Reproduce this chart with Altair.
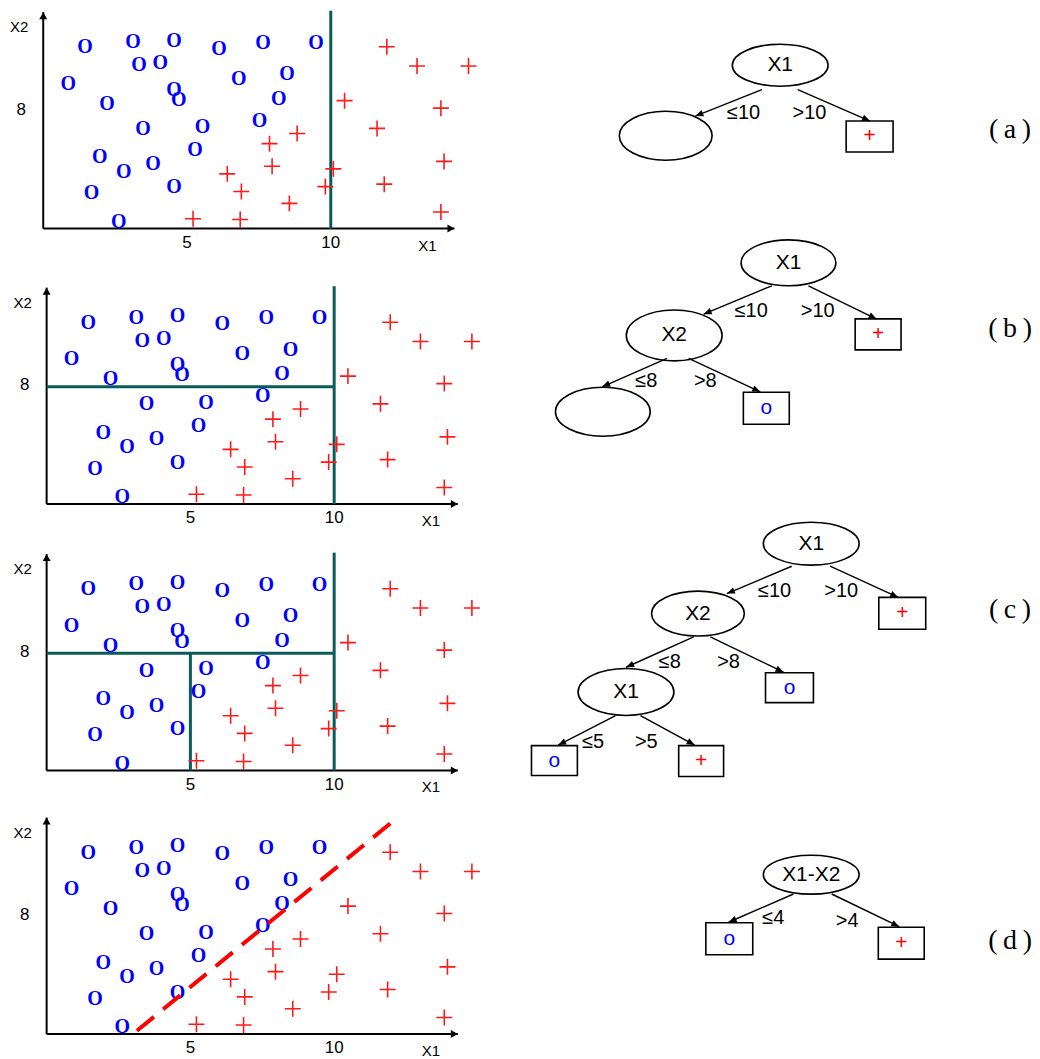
import math
import altair as alt
import pandas as pd

# ---------------- data: the 44 training points (same in every panel) ----------------
o_x1 = [1.45, 3.12, 4.55, 6.11, 6.80, 3.33, 4.07, 0.87, 4.55, 4.71, 2.22, 3.47, 5.54,
        5.28, 1.97, 2.80, 3.82, 4.55, 1.68, 2.63, 7.64, 9.49, 8.48, 8.19, 7.52]
o_x2 = [12.35, 12.69, 12.81, 12.24, 10.21, 11.13, 11.27, 9.86, 9.48, 8.79, 8.51, 6.79, 6.89,
        5.34, 4.87, 3.89, 4.42, 2.81, 2.40, 0.46, 12.65, 12.65, 10.51, 8.83, 7.36]
p_x1 = [6.40, 6.89, 5.21, 6.85, 11.95, 13.00, 14.79, 10.48, 13.83, 11.61, 8.83, 7.87,
        7.96, 13.94, 10.09, 9.81, 11.86, 8.56, 13.83]
p_x2 = [3.73, 2.53, 0.67, 0.62, 12.39, 11.08, 11.08, 8.72, 8.21, 6.83, 6.48, 5.79,
        4.25, 4.58, 4.07, 2.86, 3.03, 1.72, 1.13]

x_ticks = [5, 10]
x_tick_labels = ["5", "10"]
y_ticks = [8]
y_tick_labels = ["8"]
X_AXIS_END = 14.3
Y_AXIS_END = 14.75

# split boundaries per panel: (x, y, x2, y2)
splits_a = [(10, 0, 10, 14.85)]
splits_b = [(10, 0, 10, 14.85), (0, 8, 10, 8)]
splits_c = [(10, 0, 10, 14.85), (0, 8, 10, 8), (5, 0, 5, 8)]
oblique_x1 = [3.14, 12.26]
oblique_x2 = [0.22, 14.85]

# ---------------- decision trees (layout units = pixels of the figure) ----------------
# node: (kind, x, y, w, h, text)
tree_a_nodes = [("ellipse", 781.7, 62.3, 96, 42, "X1"),
                ("ellipse", 667.0, 133.0, 93, 49, ""),
                ("box", 871.3, 133.7, 47, 31, "+")]
tree_a_edges = [(763.3, 86.7, 696.7, 113.3, "≤10", 745.0, 110.0),
                (799.3, 86.7, 871.7, 118.3, ">10", 811.0, 110.0)]

tree_b_nodes = [("ellipse", 790.0, 260.3, 95, 46, "X1"),
                ("ellipse", 675.5, 333.0, 96, 51, "X2"),
                ("ellipse", 604.0, 409.5, 95, 49, ""),
                ("box", 767.8, 406.0, 46, 32, "o"),
                ("box", 879.8, 332.0, 46, 31, "+")]
tree_b_edges = [(773.3, 283.3, 705.0, 311.7, "≤10", 752.7, 309.0),
                (810.0, 283.3, 878.3, 316.7, ">10", 819.3, 309.0),
                (668.3, 356.0, 603.3, 384.5, "≤8", 647.5, 379.0),
                (690.0, 356.0, 761.7, 389.5, ">8", 706.7, 379.0)]

tree_c_nodes = [("ellipse", 812.8, 541.7, 96, 43, "X1"),
                ("ellipse", 699.3, 611.7, 93, 45, "X2"),
                ("ellipse", 627.2, 690.3, 96, 47, "X1"),
                ("box", 791.0, 686.0, 48, 30, "o"),
                ("box", 904.0, 611.5, 47, 32, "+"),
                ("box", 555.5, 759.0, 46, 30, "o"),
                ("box", 702.5, 759.5, 45, 31, "+")]
tree_c_edges = [(793.3, 564.3, 728.3, 591.7, "≤10", 776.0, 589.0),
                (831.7, 564.3, 900.0, 595.5, ">10", 842.8, 589.0),
                (695.0, 635.0, 627.3, 665.5, "≤8", 671.0, 660.0),
                (711.7, 635.0, 785.0, 670.5, ">8", 730.0, 660.0),
                (616.7, 714.0, 559.3, 743.5, "≤5", 594.3, 740.3),
                (641.7, 714.0, 696.0, 743.5, ">5", 647.5, 740.3)]

tree_d_nodes = [("ellipse", 812.8, 873.3, 96, 39, "X1-X2"),
                ("box", 730.7, 937.5, 47, 32, "o"),
                ("box", 903.0, 942.0, 46, 32, "+")]
tree_d_edges = [(795.0, 892.7, 730.0, 921.0, "≤4", 774.7, 917.0),
                (833.3, 892.7, 901.0, 925.5, ">4", 848.8, 919.7)]

panel_labels = ["(\u2009a\u2009)", "(\u2009b\u2009)", "(\u2009c\u2009)", "(\u2009d\u2009)"]
panel_label_pos = [(1012, 127.5), (1012, 327), (1012, 608), (1012, 940)]

# ---------------- layout / style ----------------
PX_X = 28.81          # pixels per X1 unit
PX_Y = 14.7           # pixels per X2 unit
SCATTER_W = 482
TREE_X0 = 490
TREE_W = 542
TEAL = "#0a5c5b"
SANS = "Liberation Sans"
SERIF = "Liberation Serif"

rows = [
    dict(top=8, h=218, axis_px=35.3, splits=splits_a, oblique=False,
         nodes=tree_a_nodes, edges=tree_a_edges),
    dict(top=226, h=276, axis_px=38.7, splits=splits_b, oblique=False,
         nodes=tree_b_nodes, edges=tree_b_edges),
    dict(top=502, h=267, axis_px=38.7, splits=splits_c, oblique=False,
         nodes=tree_c_nodes, edges=tree_c_edges),
    dict(top=769, h=264, axis_px=38.7, splits=[], oblique=True,
         nodes=tree_d_nodes, edges=tree_d_edges),
]

AXIS_HEAD = "M0,0L0.57,1L-0.57,1Z"
EDGE_HEAD = "M0,0L0.5,1.2L-0.5,1.2Z"
PLUS = "M-1,0H1M0,-1V1"

o_df = pd.DataFrame({"x": o_x1, "y": o_x2})
p_df = pd.DataFrame({"x": p_x1, "y": p_x2})


def scatter(row):
    x_lo = -row["axis_px"] / PX_X
    x_hi = x_lo + SCATTER_W / PX_X
    y_hi = row["h"] / PX_Y
    xs = alt.Scale(domain=[x_lo, x_hi], nice=False, zero=False)
    ys = alt.Scale(domain=[0, y_hi], nice=False, zero=False)

    def X(f):
        return alt.X(f, type="quantitative", scale=xs, axis=None)

    def Y(f):
        return alt.Y(f, type="quantitative", scale=ys, axis=None)

    layers = []
    axes_df = pd.DataFrame({"x": [0, 0], "y": [0, 0],
                            "x2": [X_AXIS_END, 0], "y2": [0, Y_AXIS_END]})
    layers.append(alt.Chart(axes_df).mark_rule(color="black", strokeWidth=2).encode(
        x=X("x"), y=Y("y"), x2="x2:Q", y2="y2:Q"))
    heads_df = pd.DataFrame({"x": [X_AXIS_END, 0], "y": [0, Y_AXIS_END], "ang": [90, 0]})
    layers.append(alt.Chart(heads_df).mark_point(
        shape=AXIS_HEAD, size=196, filled=True, color="black", opacity=1, strokeWidth=0).encode(
        x=X("x"), y=Y("y"), angle=alt.Angle("ang:Q", scale=None)))

    if row["splits"]:
        s_df = pd.DataFrame(row["splits"], columns=["x", "y", "x2", "y2"])
        layers.append(alt.Chart(s_df).mark_rule(color=TEAL, strokeWidth=3).encode(
            x=X("x"), y=Y("y"), x2="x2:Q", y2="y2:Q"))

    layers.append(alt.Chart(o_df).mark_text(
        text="O", font=SERIF, fontSize=20, fontWeight="bold", color="#0000ff",
        align="center", baseline="middle").encode(x=X("x"), y=Y("y")))
    layers.append(alt.Chart(p_df).mark_point(
        shape=PLUS, size=256, filled=False, color="#ff1a1a", strokeWidth=1.6, opacity=1).encode(
        x=X("x"), y=Y("y")))

    if row["oblique"]:
        l_df = pd.DataFrame({"x": oblique_x1, "y": oblique_x2, "o": [0, 1]})
        layers.append(alt.Chart(l_df).mark_line(
            color="#ff0000", strokeWidth=4, strokeDash=[22, 12]).encode(
            x=X("x"), y=Y("y"), order="o:Q"))

    xt_df = pd.DataFrame({"x": x_ticks, "y": [0] * len(x_ticks), "t": x_tick_labels})
    layers.append(alt.Chart(xt_df).mark_text(
        font=SANS, fontSize=17, dy=14, align="center", baseline="middle", color="black").encode(
        x=X("x"), y=Y("y"), text="t:N"))
    yt_df = pd.DataFrame({"x": [0] * len(y_ticks), "y": y_ticks, "t": y_tick_labels})
    layers.append(alt.Chart(yt_df).mark_text(
        font=SANS, fontSize=17, dx=-22, dy=-1.5, align="center", baseline="middle",
        color="black").encode(x=X("x"), y=Y("y"), text="t:N"))
    t1_df = pd.DataFrame({"x": [X_AXIS_END], "y": [0], "t": ["X1"]})
    layers.append(alt.Chart(t1_df).mark_text(
        font=SANS, fontSize=15, dx=-27, dy=17, align="center", baseline="middle",
        color="black").encode(x=X("x"), y=Y("y"), text="t:N"))
    t2_df = pd.DataFrame({"x": [0], "y": [Y_AXIS_END], "t": ["X2"]})
    layers.append(alt.Chart(t2_df).mark_text(
        font=SANS, fontSize=15, dx=-24, dy=15, align="center", baseline="middle",
        color="black").encode(x=X("x"), y=Y("y"), text="t:N"))

    return alt.layer(*layers).properties(width=SCATTER_W, height=row["h"])


def tree(row, label, label_pos):
    xs = alt.Scale(domain=[TREE_X0, TREE_X0 + TREE_W], nice=False, zero=False)
    ys = alt.Scale(domain=[row["top"], row["top"] + row["h"]], reverse=True, nice=False, zero=False)

    def X(f):
        return alt.X(f, type="quantitative", scale=xs, axis=None)

    def Y(f):
        return alt.Y(f, type="quantitative", scale=ys, axis=None)

    nrows = []
    for kind, x, y, w, h, txt in row["nodes"]:
        r = h / w
        if kind == "ellipse":
            path = f"M-1,0A1,{r:.4f},0,1,1,1,0A1,{r:.4f},0,1,1,-1,0Z"
        else:
            path = f"M-1,{-r:.4f}H1V{r:.4f}H-1Z"
        color = {"+": "#ff0000", "o": "#0000ff"}.get(txt, "black")
        nrows.append(dict(x=x, y=y, path=path, sz=w * w, kind=kind, t=txt, c=color))
    n_df = pd.DataFrame(nrows)

    erows = []
    for x1, y1, x2, y2, lab, lx, ly in row["edges"]:
        ang = (math.degrees(math.atan2(x2 - x1, -(y2 - y1))) + 360) % 360
        erows.append(dict(x=x1, y=y1, x2=x2, y2=y2, ang=ang, lab=lab, lx=lx, ly=ly))
    e_df = pd.DataFrame(erows)

    layers = [
        alt.Chart(e_df).mark_rule(color="black", strokeWidth=1.4).encode(
            x=X("x"), y=Y("y"), x2="x2:Q", y2="y2:Q"),
        alt.Chart(e_df).mark_point(shape=EDGE_HEAD, size=178, filled=True, color="black",
                                   opacity=1, strokeWidth=0).encode(
            x=X("x2"), y=Y("y2"), angle=alt.Angle("ang:Q", scale=None)),
        alt.Chart(n_df).mark_point(filled=False, color="black", strokeWidth=1.6, opacity=1).encode(
            x=X("x"), y=Y("y"), shape=alt.Shape("path:N", scale=None),
            size=alt.Size("sz:Q", scale=None)),
        alt.Chart(n_df[n_df["kind"] == "ellipse"]).mark_text(
            font=SANS, fontSize=21, align="center", baseline="middle").encode(
            x=X("x"), y=Y("y"), text="t:N", color=alt.Color("c:N", scale=None)),
        alt.Chart(n_df[n_df["kind"] == "box"]).mark_text(
            font=SANS, fontSize=21, align="center", baseline="middle").encode(
            x=X("x"), y=Y("y"), text="t:N", color=alt.Color("c:N", scale=None)),
        alt.Chart(e_df).mark_text(font=SANS, fontSize=20, align="center", baseline="middle",
                                  color="black").encode(x=X("lx"), y=Y("ly"), text="lab:N"),
        alt.Chart(pd.DataFrame({"x": [label_pos[0]], "y": [label_pos[1]], "t": [label]})).mark_text(
            font=SERIF, fontSize=28, align="center", baseline="middle", color="black").encode(
            x=X("x"), y=Y("y"), text="t:N"),
    ]
    return alt.layer(*layers).properties(width=TREE_W, height=row["h"])


cells = []
for i, row in enumerate(rows):
    cells.append(scatter(row))
    cells.append(tree(row, panel_labels[i], panel_label_pos[i]))

chart = alt.concat(*cells, columns=2, spacing=0, bounds="flush", align="each").resolve_scale(
    x="independent", y="independent").properties(padding=0).configure_view(stroke=None)

chart.save("out.html", embed_options={"renderer": "svg", "actions": False})
